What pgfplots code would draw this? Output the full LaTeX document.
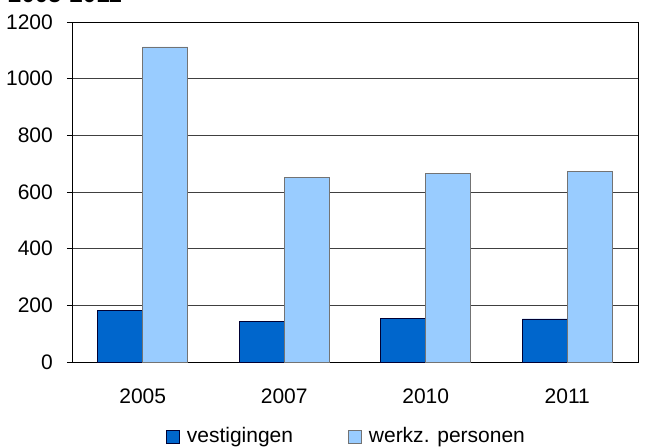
\documentclass[border=0pt]{standalone}
\usepackage{fontspec}
\setmainfont{Liberation Sans}
\usepackage{pgfplots}
\pgfplotsset{compat=1.18}

\definecolor{vest}{HTML}{0066CC}
\definecolor{werkz}{HTML}{99CCFF}

\begin{document}
\fontsize{21}{25}\selectfont
\begin{tikzpicture}
\begin{axis}[
  at={(0,0)}, anchor=south west,
  scale only axis,
  width=566pt, height=340pt,
  ybar=0pt, bar width=45pt,
  xmin=-0.5, xmax=3.5,
  ymin=0, ymax=1200,
  xtick=data,
  xticklabels={2005,2007,2010,2011},
  ytick={0,200,...,1200},
  ytick pos=left,
  ymajorgrids,
  grid style={black!75, line width=0.6pt},
  axis line style={black, line width=0.8pt},
  tick align=outside,
  ytick style={black, line width=0.6pt},
  xtick style={draw=none},
  major tick length=5pt,
  tick label style={font=\fontsize{21}{25}\selectfont, /pgf/number format/assume math mode=true},
  yticklabel style={xshift=-7pt},
  xticklabel style={yshift=-15pt},
  /pgf/number format/1000 sep={},
  legend style={at={(0.485,-0.22)}, anchor=center, draw=none, fill=none,
    legend columns=2, font=\fontsize{21}{25}\selectfont,
    /tikz/every odd column/.append style={column sep=5pt},
    /tikz/every even column/.append style={column sep=53pt}},
  legend image code/.code={\draw[#1] (0pt,-6.5pt) rectangle (13pt,6.5pt);},
]
\addplot[fill=vest, draw=black!80!blue, line width=0.8pt] coordinates {(0,183) (1,142) (2,155) (3,152)};
\addplot[fill=werkz, draw=black!55, line width=0.8pt] coordinates {(0,1112) (1,650) (2,664) (3,674)};
\legend{vestigingen, werkz. personen}
\end{axis}
\node[anchor=base west, inner sep=0pt, font=\bfseries\fontsize{24}{28}\selectfont] at (-64pt,359pt) {2005-2011};
\pgfresetboundingbox
\path[use as bounding box] (-72pt,-85pt) rectangle (575pt,362pt);
\end{tikzpicture}
\end{document}
